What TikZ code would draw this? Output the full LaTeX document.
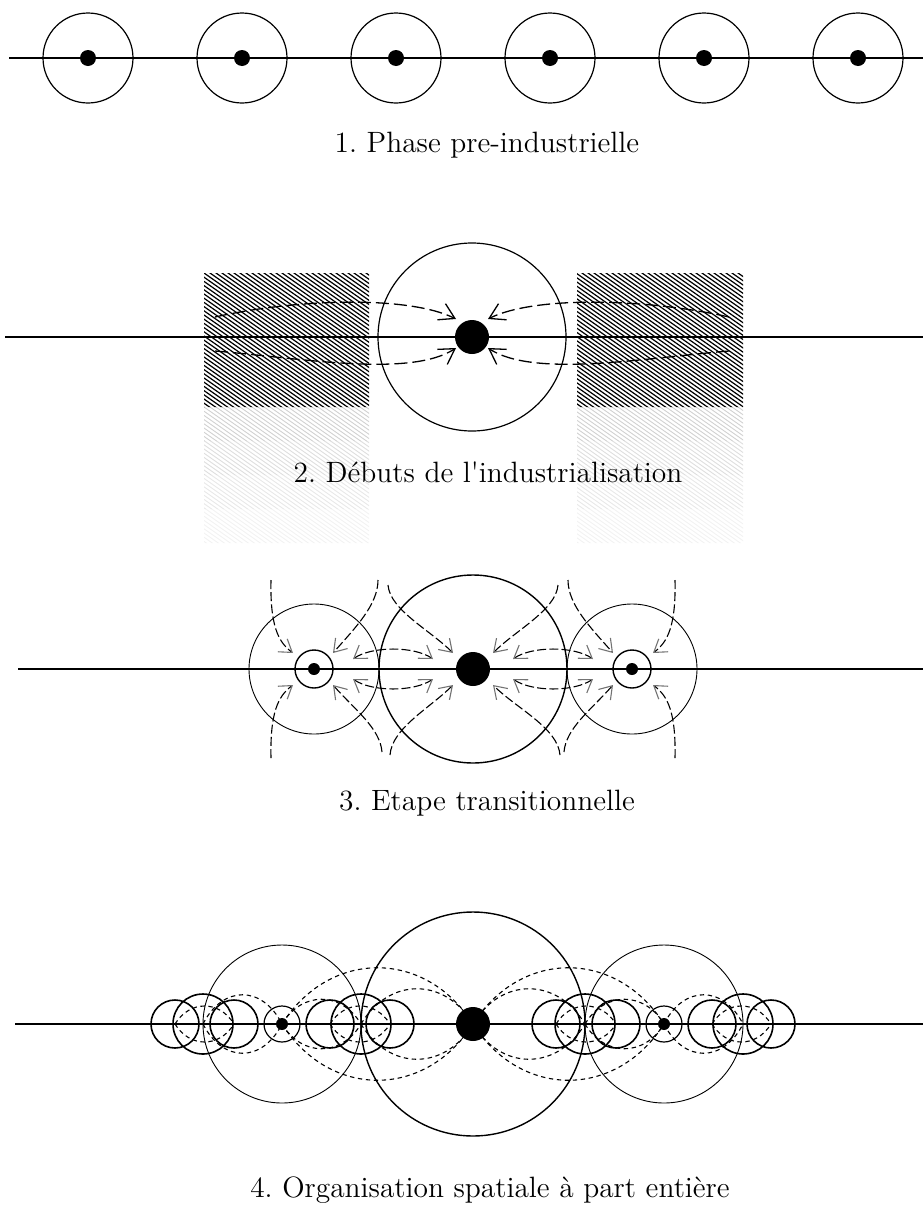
\documentclass[tikz,border=0pt]{standalone}
\usetikzlibrary{arrows.meta,calc}
\frenchspacing
\begin{document}
\begin{tikzpicture}[x=0.5pt,y=-0.5pt,
  axis/.style={line width=0.7pt},
  ring/.style={circle,draw,inner sep=0pt,outer sep=0pt,line width=0.6pt},
  thinring/.style={ring,line width=0.45pt},
  thickring/.style={ring,line width=0.8pt},
  dot/.style={circle,fill=black,inner sep=0pt,outer sep=0pt},
  lab/.style={font=\fontsize{14.7}{17}\selectfont,inner sep=0pt},
  arrA/.style={dash pattern=on 6.5pt off 2.5pt,line width=0.65pt,-{Straight Barb[length=7.5pt,width=9pt]}},
  arrB/.style={dash pattern=on 4.5pt off 1.6pt,line width=0.55pt,-{Straight Barb[length=6pt,width=8pt,color=black!55]}},
  arrBB/.style={dash pattern=on 4.5pt off 1.6pt,line width=0.55pt,{Straight Barb[length=6pt,width=8pt,color=black!55]}-{Straight Barb[length=6pt,width=8pt,color=black!55]}},
  lensline/.style={dash pattern=on 2.2pt off 1.8pt,line width=0.55pt},
  hatch/.style={line width=0.6pt},
  fainthatch/.style={line width=0.45pt}]
\newcommand\mylens[3]{%
  \draw[lensline] (#1.center) .. controls ($(#1.center)!0.25!(#2.center)+(0,-#3)$) and ($(#1.center)!0.75!(#2.center)+(0,-#3)$) .. (#2.center);
  \draw[lensline] (#1.center) .. controls ($(#1.center)!0.25!(#2.center)+(0,#3)$) and ($(#1.center)!0.75!(#2.center)+(0,#3)$) .. (#2.center);}
\path[use as bounding box] (0,0) rectangle (923,1205);

% ---------------- Panel 1 ----------------
\coordinate (l1a) at (9,58);
\coordinate (l1b) at (923,58);
\draw[axis] (l1a) -- (l1b);
\foreach \x [count=\i] in {88,242,396,550,704,858}{
  \node[ring,minimum size=45pt] (p1c\i) at (\x,58) {};
  \node[dot,minimum size=8pt] (p1d\i) at (\x,58) {};
}
\node[lab] (t1) at (487,145) {1. Phase pre-industrielle};

% ---------------- Panel 2 ----------------
\foreach \ya/\yb/\shade in {407/441/18,441/475/13,475/509/9,509/543/5}{
  \begin{scope}
    \clip (204,\ya) rectangle (369,\yb) (577,\ya) rectangle (743,\yb);
    \foreach \k in {0,...,160}{
      \draw[fainthatch,black!\shade] ({\k*6-200},267) -- ++(420,294);
    }
  \end{scope}
}
\begin{scope}
  \clip (204,273) rectangle (369,407) (577,273) rectangle (743,407);
  \foreach \k in {0,...,160}{
    \draw[hatch] ({\k*6-200},133) -- ++(420,294);
  }
\end{scope}
\coordinate (l2a) at (5,337);
\coordinate (l2b) at (923,337);
\draw[axis] (l2a) -- (l2b);
\node[ring,minimum size=94pt] (p2c) at (472,337) {};
\node[dot,minimum size=17pt] (p2d) at (472,337) {};
\coordinate (p2s1) at (215,317);
\coordinate (p2s2) at (215,351);
\coordinate (p2s3) at (729,317);
\coordinate (p2s4) at (729,351);
\coordinate (p2e1) at (456,319);
\coordinate (p2e2) at (456,348);
\coordinate (p2e3) at (488,319);
\coordinate (p2e4) at (488,348);
\draw[arrA] (p2s1) .. controls (300,298) and (410,296) .. (p2e1);
\draw[arrA] (p2s2) .. controls (300,358) and (410,378) .. (p2e2);
\draw[arrA] (p2s3) .. controls (644,298) and (534,296) .. (p2e3);
\draw[arrA] (p2s4) .. controls (644,358) and (534,378) .. (p2e4);
\node[lab] (t2) at (488,472) {2. D\'ebuts de l\textquotesingle industrialisation};

% ---------------- Panel 3 ----------------
\coordinate (l3a) at (18,669);
\coordinate (l3b) at (923,669);
\draw[axis] (l3a) -- (l3b);
\node[ring,line width=0.7pt,minimum size=94pt] (p3c) at (473,669) {};
\node[dot,minimum size=17pt] (p3d) at (473,669) {};
\foreach \x/\n in {314/1,632/2}{
  \node[thinring,minimum size=65pt] (p3m\n) at (\x,669) {};
  \node[ring,line width=0.7pt,minimum size=19pt] (p3s\n) at (\x,669) {};
  \node[dot,minimum size=6pt] (p3d\n) at (\x,669) {};
}
% arrows into left satellite
\coordinate (q1) at (271,580); \coordinate (q1e) at (293,653);
\coordinate (q2) at (378,580); \coordinate (q2e) at (333,653);
\coordinate (q3) at (271,758); \coordinate (q3e) at (293,685);
\coordinate (q4) at (382,752); \coordinate (q4e) at (333,685);
\draw[arrB] (q1) .. controls (270,625) and (278,642) .. (q1e);
\draw[arrB] (q2) .. controls (378,605) and (355,628) .. (q2e);
\draw[arrB] (q3) .. controls (270,713) and (278,696) .. (q3e);
\draw[arrB] (q4) .. controls (380,728) and (355,710) .. (q4e);
% arrows into centre
\coordinate (q5) at (388,585); \coordinate (q5e) at (453,653);
\coordinate (q6) at (558,585); \coordinate (q6e) at (493,653);
\coordinate (q7) at (390,755); \coordinate (q7e) at (453,685);
\coordinate (q8) at (560,755); \coordinate (q8e) at (493,685);
\draw[arrB] (q5) .. controls (390,610) and (430,630) .. (q5e);
\draw[arrB] (q6) .. controls (556,610) and (516,630) .. (q6e);
\draw[arrB] (q7) .. controls (392,728) and (430,708) .. (q7e);
\draw[arrB] (q8) .. controls (558,728) and (516,708) .. (q8e);
% arrows into right satellite
\coordinate (q9) at (568,580); \coordinate (q9e) at (613,653);
\coordinate (q10) at (675,580); \coordinate (q10e) at (653,653);
\coordinate (q11) at (564,752); \coordinate (q11e) at (613,685);
\coordinate (q12) at (675,758); \coordinate (q12e) at (653,685);
\draw[arrB] (q9) .. controls (568,605) and (591,628) .. (q9e);
\draw[arrB] (q10) .. controls (676,625) and (668,642) .. (q10e);
\draw[arrB] (q11) .. controls (566,728) and (591,710) .. (q11e);
\draw[arrB] (q12) .. controls (676,713) and (668,696) .. (q12e);
% exchange arrows
\coordinate (r1a) at (353,659); \coordinate (r1b) at (433,659);
\coordinate (r2a) at (353,679); \coordinate (r2b) at (433,679);
\coordinate (r3a) at (513,659); \coordinate (r3b) at (593,659);
\coordinate (r4a) at (513,679); \coordinate (r4b) at (593,679);
\draw[arrBB] (r1a) .. controls (372,646) and (414,646) .. (r1b);
\draw[arrBB] (r2a) .. controls (372,692) and (414,692) .. (r2b);
\draw[arrBB] (r3a) .. controls (532,646) and (574,646) .. (r3b);
\draw[arrBB] (r4a) .. controls (532,692) and (574,692) .. (r4b);
\node[lab] (t3) at (487,803) {3. Etape transitionnelle};

% ---------------- Panel 4 ----------------
\coordinate (l4a) at (15,1024);
\coordinate (l4b) at (923,1024);
\draw[axis] (l4a) -- (l4b);
\node[ring,line width=0.7pt,minimum size=112pt] (p4c) at (473,1024) {};
\node[dot,minimum size=17pt] (c4) at (473,1024) {};
\foreach \x/\n in {282/1,664/2}{
  \node[thinring,minimum size=79pt] (p4m\n) at (\x,1024) {};
  \node[ring,minimum size=18pt] (p4s\n) at (\x,1024) {};
  \node[dot,minimum size=6pt] (s4\n) at (\x,1024) {};
}
\foreach \x/\r [count=\i] in {175/24,203/30,234/24,330/24,361/30,390/24,556/24,585/30,616/24,712/24,743/30,771/24}{
  \node[thickring,minimum size=\r pt] (g\i) at (\x,1024) {};
}
\mylens{s41}{c4}{75}
\mylens{g5}{c4}{47}
\mylens{c4}{s42}{75}
\mylens{c4}{g8}{47}
\mylens{g2}{s41}{39}
\mylens{s41}{g5}{33}
\mylens{s42}{g11}{39}
\mylens{g8}{s42}{33}
\mylens{g1}{g3}{24}
\mylens{g4}{g6}{24}
\mylens{g7}{g9}{24}
\mylens{g10}{g12}{24}
\node[lab] (t4) at (490,1190) {4. Organisation spatiale \`a part enti\`ere};
\end{tikzpicture}
\end{document}
